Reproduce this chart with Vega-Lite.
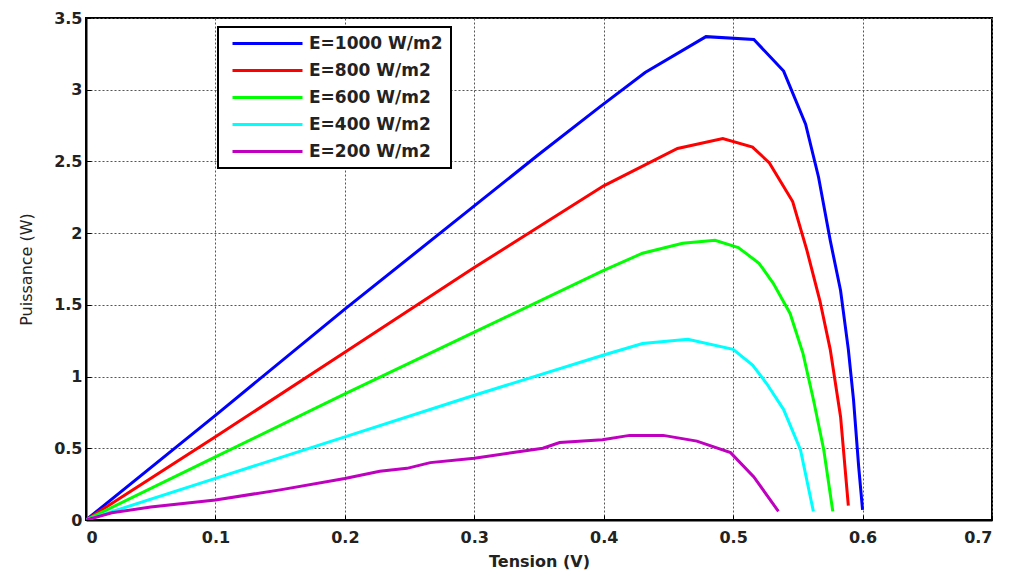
{
  "$schema": "https://vega.github.io/schema/vega-lite/v6.json",
  "autosize": "none",
  "width": 906,
  "height": 502,
  "padding": {"left": 86, "top": 18, "right": 18, "bottom": 51},
  "background": "white",
  "config": {
    "view": {"stroke": "black", "strokeWidth": 2},
    "font": "DejaVu Sans",
    "legend": {"strokeWidth": 2}
  },
  "data": {"values": [
    {"s":"E=1000 W/m2","V":0,"P":0},{"s":"E=1000 W/m2","V":0.1,"P":0.73},{"s":"E=1000 W/m2","V":0.2,"P":1.47},{"s":"E=1000 W/m2","V":0.3,"P":2.19},{"s":"E=1000 W/m2","V":0.35,"P":2.55},{"s":"E=1000 W/m2","V":0.397,"P":2.88},{"s":"E=1000 W/m2","V":0.432,"P":3.12},{"s":"E=1000 W/m2","V":0.479,"P":3.37},{"s":"E=1000 W/m2","V":0.516,"P":3.35},{"s":"E=1000 W/m2","V":0.539,"P":3.13},{"s":"E=1000 W/m2","V":0.556,"P":2.76},{"s":"E=1000 W/m2","V":0.566,"P":2.39},{"s":"E=1000 W/m2","V":0.575,"P":1.95},{"s":"E=1000 W/m2","V":0.583,"P":1.6},{"s":"E=1000 W/m2","V":0.589,"P":1.19},{"s":"E=1000 W/m2","V":0.593,"P":0.84},{"s":"E=1000 W/m2","V":0.597,"P":0.37},{"s":"E=1000 W/m2","V":0.6,"P":0.07},
    {"s":"E=800 W/m2","V":0,"P":0},{"s":"E=800 W/m2","V":0.1,"P":0.58},{"s":"E=800 W/m2","V":0.2,"P":1.17},{"s":"E=800 W/m2","V":0.3,"P":1.76},{"s":"E=800 W/m2","V":0.4,"P":2.33},{"s":"E=800 W/m2","V":0.457,"P":2.59},{"s":"E=800 W/m2","V":0.492,"P":2.66},{"s":"E=800 W/m2","V":0.515,"P":2.6},{"s":"E=800 W/m2","V":0.528,"P":2.49},{"s":"E=800 W/m2","V":0.546,"P":2.22},{"s":"E=800 W/m2","V":0.557,"P":1.88},{"s":"E=800 W/m2","V":0.567,"P":1.53},{"s":"E=800 W/m2","V":0.575,"P":1.19},{"s":"E=800 W/m2","V":0.583,"P":0.72},{"s":"E=800 W/m2","V":0.589,"P":0.1},
    {"s":"E=600 W/m2","V":0,"P":0},{"s":"E=600 W/m2","V":0.1,"P":0.44},{"s":"E=600 W/m2","V":0.2,"P":0.88},{"s":"E=600 W/m2","V":0.3,"P":1.31},{"s":"E=600 W/m2","V":0.4,"P":1.74},{"s":"E=600 W/m2","V":0.43,"P":1.86},{"s":"E=600 W/m2","V":0.461,"P":1.93},{"s":"E=600 W/m2","V":0.486,"P":1.95},{"s":"E=600 W/m2","V":0.504,"P":1.9},{"s":"E=600 W/m2","V":0.52,"P":1.79},{"s":"E=600 W/m2","V":0.531,"P":1.65},{"s":"E=600 W/m2","V":0.544,"P":1.44},{"s":"E=600 W/m2","V":0.554,"P":1.16},{"s":"E=600 W/m2","V":0.562,"P":0.84},{"s":"E=600 W/m2","V":0.57,"P":0.49},{"s":"E=600 W/m2","V":0.577,"P":0.06},
    {"s":"E=400 W/m2","V":0,"P":0},{"s":"E=400 W/m2","V":0.1,"P":0.29},{"s":"E=400 W/m2","V":0.2,"P":0.58},{"s":"E=400 W/m2","V":0.3,"P":0.87},{"s":"E=400 W/m2","V":0.4,"P":1.15},{"s":"E=400 W/m2","V":0.43,"P":1.23},{"s":"E=400 W/m2","V":0.465,"P":1.26},{"s":"E=400 W/m2","V":0.5,"P":1.19},{"s":"E=400 W/m2","V":0.515,"P":1.08},{"s":"E=400 W/m2","V":0.526,"P":0.95},{"s":"E=400 W/m2","V":0.539,"P":0.77},{"s":"E=400 W/m2","V":0.552,"P":0.49},{"s":"E=400 W/m2","V":0.562,"P":0.06},
    {"s":"E=200 W/m2","V":0,"P":0},{"s":"E=200 W/m2","V":0.02,"P":0.05},{"s":"E=200 W/m2","V":0.05,"P":0.09},{"s":"E=200 W/m2","V":0.1,"P":0.14},{"s":"E=200 W/m2","V":0.15,"P":0.21},{"s":"E=200 W/m2","V":0.2,"P":0.29},{"s":"E=200 W/m2","V":0.227,"P":0.34},{"s":"E=200 W/m2","V":0.248,"P":0.36},{"s":"E=200 W/m2","V":0.266,"P":0.4},{"s":"E=200 W/m2","V":0.3,"P":0.43},{"s":"E=200 W/m2","V":0.33,"P":0.47},{"s":"E=200 W/m2","V":0.353,"P":0.5},{"s":"E=200 W/m2","V":0.366,"P":0.54},{"s":"E=200 W/m2","V":0.399,"P":0.56},{"s":"E=200 W/m2","V":0.42,"P":0.59},{"s":"E=200 W/m2","V":0.446,"P":0.59},{"s":"E=200 W/m2","V":0.472,"P":0.55},{"s":"E=200 W/m2","V":0.498,"P":0.47},{"s":"E=200 W/m2","V":0.516,"P":0.3},{"s":"E=200 W/m2","V":0.535,"P":0.06}
  ]},
  "mark": {"type": "line", "strokeWidth": 3, "clip": true},
  "encoding": {
    "x": {
      "field": "V", "type": "quantitative",
      "scale": {"domain": [0, 0.7], "nice": false, "zero": false},
      "axis": {
        "title": "Tension (V)", "values": [0,0.1,0.2,0.3,0.4,0.5,0.6,0.7], "format": "~g",
        "grid": true, "gridColor": "#555", "gridDash": [2, 2], "gridWidth": 1,
        "domainColor": "black", "domainWidth": 2,
        "tickColor": "black", "tickSize": -5, "tickWidth": 1,
        "labelFontSize": 16, "labelFontWeight": "bold", "labelColor": "#222", "labelPadding": 14,
        "titleFontSize": 16, "titleColor": "#222", "titleFontWeight": "bold", "titlePadding": 8
      }
    },
    "y": {
      "field": "P", "type": "quantitative",
      "scale": {"domain": [0, 3.5], "nice": false},
      "axis": {
        "title": "Puissance (W)", "values": [0,0.5,1,1.5,2,2.5,3,3.5], "format": "~g",
        "grid": true, "gridColor": "#555", "gridDash": [2, 2], "gridWidth": 1,
        "domainColor": "black", "domainWidth": 2,
        "tickColor": "black", "tickSize": -5, "tickWidth": 1,
        "labelFontSize": 16, "labelFontWeight": "bold", "labelColor": "#222", "labelPadding": 9,
        "titleFontSize": 16, "titleColor": "#222", "titleFontWeight": "normal", "titlePadding": 19
      }
    },
    "color": {
      "field": "s", "type": "nominal",
      "sort": ["E=1000 W/m2","E=800 W/m2","E=600 W/m2","E=400 W/m2","E=200 W/m2"],
      "scale": {
        "domain": ["E=1000 W/m2","E=800 W/m2","E=600 W/m2","E=400 W/m2","E=200 W/m2"],
        "range": ["#0000ff","#ff0000","#00ff00","#00ffff","#bf00bf"]
      },
      "legend": {
        "title": null, "orient": "none", "legendX": 132, "legendY": 9,
        "fillColor": "white", "strokeColor": "black",
        "padding": 8,
        "symbolType": "M-7,0H7", "symbolSize": 100, "symbolStrokeWidth": 3, "symbolOffset": 33,
        "labelFontSize": 17, "labelFontWeight": "bold", "labelColor": "#222", "labelOffset": 33,
        "rowPadding": 9
      }
    }
  }
}
